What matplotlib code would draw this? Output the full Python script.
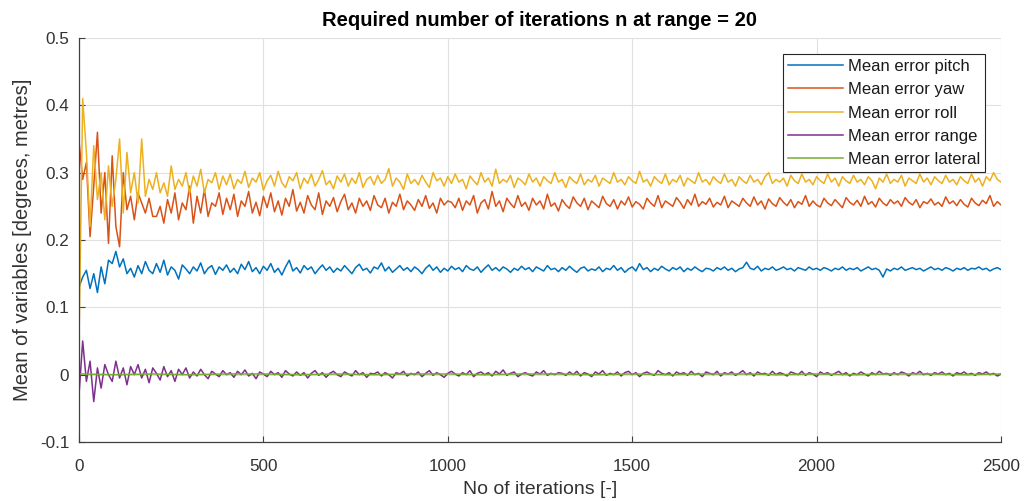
import numpy as np
import matplotlib
matplotlib.use("Agg")
import matplotlib.pyplot as plt

plt.rcParams['font.family'] = ['Liberation Sans', 'DejaVu Sans']

# ---------------- data ----------------
step = 10  # iteration spacing of the sampled series

pitch = [
    0.130,
    0.145, 0.155, 0.128, 0.150, 0.122, 0.160, 0.135, 0.170, 0.165, 0.183,
    0.160, 0.172, 0.150, 0.158, 0.145, 0.162, 0.150, 0.168, 0.155, 0.150,
    0.165, 0.152, 0.170, 0.148, 0.160, 0.155, 0.142, 0.163, 0.157, 0.150,
    0.160, 0.154, 0.166, 0.150, 0.158, 0.162, 0.149, 0.160, 0.155, 0.163,
    0.152, 0.158, 0.150, 0.164, 0.156, 0.168, 0.153, 0.159, 0.150, 0.161,
    0.155, 0.165, 0.152, 0.158, 0.148, 0.160, 0.170, 0.154, 0.159, 0.151,
    0.162, 0.156, 0.160, 0.150, 0.157, 0.163, 0.155, 0.160, 0.152, 0.158,
    0.154, 0.162, 0.156, 0.150, 0.159, 0.164, 0.155, 0.158, 0.151, 0.160,
    0.157, 0.166, 0.154, 0.160, 0.152, 0.157, 0.162, 0.155, 0.159, 0.153,
    0.160, 0.156, 0.150, 0.158, 0.163, 0.155, 0.160, 0.152, 0.158, 0.154,
    0.161, 0.156, 0.159, 0.153, 0.162, 0.157, 0.155, 0.160, 0.152, 0.158,
    0.163, 0.155, 0.159, 0.154, 0.160, 0.157, 0.152, 0.158, 0.155, 0.161,
    0.156, 0.159, 0.153, 0.160, 0.157, 0.154, 0.162, 0.156, 0.158, 0.153,
    0.159, 0.155, 0.161, 0.156, 0.152, 0.158, 0.160, 0.154, 0.157, 0.155,
    0.160, 0.153, 0.158, 0.156, 0.162, 0.155, 0.159, 0.152, 0.157, 0.160,
    0.154, 0.165, 0.156, 0.159, 0.153, 0.158, 0.155, 0.161, 0.157, 0.154,
    0.159, 0.156, 0.160, 0.153, 0.158, 0.155, 0.160, 0.156, 0.153, 0.158,
    0.157, 0.154, 0.159, 0.156, 0.160, 0.155, 0.158, 0.153, 0.157, 0.159,
    0.167, 0.158, 0.156, 0.161, 0.154, 0.158, 0.156, 0.160, 0.155, 0.157,
    0.160, 0.156, 0.158, 0.154, 0.159, 0.157, 0.155, 0.160, 0.156, 0.158,
    0.155, 0.159, 0.157, 0.154, 0.158, 0.156, 0.160, 0.155, 0.158, 0.156,
    0.159, 0.154, 0.157, 0.160, 0.156, 0.158, 0.155, 0.145, 0.157, 0.154,
    0.158, 0.156, 0.160, 0.155, 0.157, 0.159, 0.156, 0.158, 0.154, 0.157,
    0.160, 0.156, 0.158, 0.155, 0.159, 0.157, 0.154, 0.158, 0.156, 0.159,
    0.155, 0.158, 0.157, 0.160, 0.156, 0.158, 0.154, 0.157, 0.159, 0.156,
]

yaw = [
    0.347,
    0.290, 0.315, 0.205, 0.280, 0.360, 0.240, 0.300, 0.195, 0.325, 0.220,
    0.190, 0.300, 0.245, 0.265, 0.230, 0.270, 0.255, 0.240, 0.262, 0.235,
    0.235, 0.250, 0.225, 0.260, 0.240, 0.270, 0.230, 0.255, 0.245, 0.280,
    0.225, 0.265, 0.240, 0.275, 0.235, 0.255, 0.250, 0.270, 0.238, 0.262,
    0.245, 0.268, 0.235, 0.258, 0.250, 0.272, 0.240, 0.256, 0.236, 0.265,
    0.248, 0.270, 0.242, 0.258, 0.237, 0.262, 0.250, 0.275, 0.243, 0.256,
    0.240, 0.266, 0.252, 0.245, 0.270, 0.238, 0.258, 0.250, 0.263, 0.242,
    0.257, 0.268, 0.245, 0.255, 0.240, 0.262, 0.250, 0.258, 0.244, 0.266,
    0.252, 0.248, 0.262, 0.240, 0.256, 0.250, 0.268, 0.245, 0.258, 0.252,
    0.244, 0.260, 0.250, 0.266, 0.247, 0.255, 0.240, 0.262, 0.252, 0.258,
    0.256, 0.248, 0.262, 0.244, 0.258, 0.252, 0.266, 0.240, 0.255, 0.260,
    0.246, 0.272, 0.250, 0.258, 0.242, 0.262, 0.254, 0.248, 0.266, 0.250,
    0.256, 0.244, 0.262, 0.252, 0.258, 0.246, 0.268, 0.250, 0.255, 0.243,
    0.260, 0.252, 0.247, 0.264, 0.255, 0.250, 0.262, 0.245, 0.258, 0.253,
    0.248, 0.265, 0.254, 0.250, 0.260, 0.246, 0.258, 0.252, 0.264, 0.249,
    0.257, 0.253, 0.246, 0.262, 0.255, 0.250, 0.266, 0.248, 0.258, 0.254,
    0.250, 0.263, 0.256, 0.247, 0.260, 0.252, 0.268, 0.250, 0.257, 0.253,
    0.262, 0.249, 0.256, 0.252, 0.265, 0.248, 0.258, 0.254, 0.250, 0.262,
    0.255, 0.250, 0.264, 0.252, 0.258, 0.246, 0.261, 0.254, 0.250, 0.263,
    0.256, 0.251, 0.260, 0.248, 0.257, 0.253, 0.266, 0.250, 0.258, 0.252,
    0.249, 0.262, 0.255, 0.251, 0.260, 0.254, 0.248, 0.263, 0.256, 0.252,
    0.259, 0.250, 0.265, 0.253, 0.257, 0.249, 0.262, 0.255, 0.251, 0.260,
    0.254, 0.258, 0.250, 0.263, 0.256, 0.252, 0.260, 0.248, 0.257, 0.254,
    0.261, 0.252, 0.256, 0.250, 0.264, 0.254, 0.258, 0.251, 0.260, 0.253,
    0.249, 0.262, 0.255, 0.251, 0.259, 0.254, 0.266, 0.250, 0.257, 0.252,
]

roll = [
    0.050,
    0.410, 0.330, 0.220, 0.340, 0.260, 0.300, 0.230, 0.310, 0.250, 0.290,
    0.350, 0.240, 0.330, 0.270, 0.300, 0.255, 0.350, 0.265, 0.290, 0.275,
    0.300, 0.270, 0.285, 0.265, 0.310, 0.275, 0.290, 0.280, 0.300, 0.270,
    0.295, 0.280, 0.305, 0.270, 0.290, 0.285, 0.300, 0.275, 0.295, 0.282,
    0.298, 0.276, 0.290, 0.284, 0.302, 0.278, 0.292, 0.286, 0.300, 0.274,
    0.288, 0.296, 0.280, 0.302, 0.285, 0.278, 0.294, 0.288, 0.300, 0.276,
    0.292, 0.284, 0.298, 0.280, 0.290, 0.303, 0.282, 0.288, 0.276, 0.295,
    0.286, 0.298, 0.280, 0.292, 0.284, 0.300, 0.278, 0.290, 0.294, 0.282,
    0.296, 0.284, 0.290, 0.306, 0.280, 0.292, 0.286, 0.275, 0.298, 0.284,
    0.290, 0.282, 0.296, 0.286, 0.278, 0.300, 0.288, 0.292, 0.280, 0.294,
    0.284, 0.298, 0.286, 0.290, 0.276, 0.295, 0.288, 0.282, 0.300, 0.286,
    0.292, 0.280, 0.305, 0.284, 0.290, 0.286, 0.296, 0.278, 0.292, 0.288,
    0.282, 0.298, 0.286, 0.292, 0.280, 0.294, 0.288, 0.284, 0.300, 0.286,
    0.290, 0.278, 0.294, 0.288, 0.284, 0.298, 0.282, 0.290, 0.286, 0.296,
    0.280, 0.292, 0.288, 0.284, 0.300, 0.286, 0.290, 0.282, 0.294, 0.288,
    0.284, 0.302, 0.286, 0.290, 0.280, 0.294, 0.288, 0.284, 0.298, 0.282,
    0.290, 0.286, 0.296, 0.280, 0.292, 0.288, 0.284, 0.300, 0.286, 0.290,
    0.282, 0.294, 0.288, 0.284, 0.298, 0.286, 0.290, 0.280, 0.294, 0.288,
    0.284, 0.296, 0.286, 0.290, 0.282, 0.294, 0.300, 0.284, 0.290, 0.286,
    0.292, 0.280, 0.296, 0.288, 0.284, 0.298, 0.286, 0.290, 0.282, 0.294,
    0.288, 0.284, 0.298, 0.286, 0.292, 0.280, 0.294, 0.288, 0.284, 0.296,
    0.286, 0.290, 0.282, 0.294, 0.288, 0.276, 0.292, 0.286, 0.298, 0.284,
    0.290, 0.286, 0.296, 0.280, 0.292, 0.288, 0.284, 0.298, 0.286, 0.292,
    0.282, 0.294, 0.288, 0.284, 0.296, 0.286, 0.290, 0.282, 0.294, 0.288,
    0.284, 0.298, 0.286, 0.292, 0.280, 0.294, 0.288, 0.300, 0.290, 0.286,
]

rng_err = [
    -0.030,
    0.050, -0.010, 0.020, -0.040, 0.010, -0.020, 0.015, 0.000, -0.010, 0.020,
    -0.005, 0.010, -0.015, 0.012, 0.000, 0.015, -0.005, 0.008, -0.012, 0.010,
    0.002, -0.008, 0.012, -0.003, 0.006, -0.010, 0.008, 0.000, 0.010, -0.005,
    0.004, -0.002, 0.008, 0.000, -0.006, 0.005, 0.001, -0.003, 0.006, 0.000,
    0.003, -0.004, 0.005, 0.000, 0.007, -0.002, 0.002, -0.006, 0.004, 0.001,
    -0.003, 0.005, 0.000, 0.003, -0.004, 0.006, 0.001, -0.002, 0.004, -0.001,
    0.003, -0.005, 0.002, 0.006, -0.001, 0.003, -0.004, 0.002, 0.005, 0.000,
    -0.003, 0.004, 0.001, -0.002, 0.006, 0.000, 0.003, -0.004, 0.002, 0.001,
    0.004, -0.002, 0.003, 0.000, -0.005, 0.003, 0.001, 0.005, -0.002, 0.002,
    0.000, 0.004, -0.003, 0.002, 0.006, -0.001, 0.003, 0.000, -0.004, 0.002,
    0.005, 0.001, -0.002, 0.003, 0.000, 0.006, -0.003, 0.002, 0.004, 0.000,
    0.003, -0.002, 0.005, 0.001, 0.007, -0.001, 0.002, 0.004, -0.003, 0.001,
    0.003, 0.000, -0.002, 0.004, 0.001, 0.006, -0.001, 0.002, 0.000, 0.003,
    0.002, -0.001, 0.004, 0.000, 0.005, -0.002, 0.003, 0.001, -0.003, 0.004,
    0.001, 0.006, -0.001, 0.002, 0.000, 0.004, -0.002, 0.003, 0.005, 0.000,
    0.003, -0.003, 0.002, 0.004, 0.001, -0.001, 0.006, 0.002, 0.000, 0.003,
    -0.002, 0.004, 0.001, 0.003, -0.001, 0.005, 0.000, 0.002, -0.003, 0.004,
    0.002, 0.000, 0.005, -0.002, 0.003, 0.001, 0.004, -0.001, 0.002, 0.006,
    0.000, 0.003, -0.002, 0.004, 0.001, 0.002, -0.001, 0.005, 0.000, 0.003,
    0.001, -0.002, 0.004, 0.002, 0.000, 0.005, -0.001, 0.003, 0.001, -0.003,
    0.004, 0.001, 0.003, -0.001, 0.002, 0.005, 0.000, 0.003, -0.002, 0.002,
    0.000, 0.004, 0.001, -0.002, 0.003, 0.000, 0.005, 0.001, 0.002, -0.001,
    0.003, 0.000, 0.004, 0.002, -0.002, 0.003, 0.001, 0.005, 0.000, 0.002,
    -0.001, 0.003, 0.001, 0.004, 0.000, 0.002, -0.002, 0.003, 0.001, 0.004,
    0.000, 0.002, -0.001, 0.003, 0.001, 0.004, 0.000, 0.002, -0.002, 0.001,
]

lateral_step = 100
lateral = [
    0.001, 0.000, 0.001, 0.000, 0.001, 0.001, 0.000, 0.001, 0.000, 0.001,
    0.001, 0.000, 0.001, 0.001, 0.000, 0.001, 0.000, 0.001, 0.001, 0.000,
    0.001, 0.000, 0.001, 0.001, 0.000, 0.001,
]

labels = ['Mean error pitch', 'Mean error yaw', 'Mean error roll',
          'Mean error range', 'Mean error lateral']
xticks = [0, 500, 1000, 1500, 2000, 2500]
yticks = [-0.1, 0, 0.1, 0.2, 0.3, 0.4, 0.5]
yticklabels = ['-0.1', '0', '0.1', '0.2', '0.3', '0.4', '0.5']

colors = [(0, 0.447, 0.741), (0.85, 0.325, 0.098), (0.929, 0.694, 0.125),
          (0.494, 0.184, 0.556), (0.466, 0.674, 0.188)]

# ---------------- plot ----------------
fig = plt.figure(figsize=(10.25, 5.01), dpi=100)
ax = fig.add_axes([79 / 1025, 1 - 442 / 501, (1001 - 79) / 1025, (442 - 38) / 501])

series = [pitch, yaw, roll, rng_err]
for vals, lab, col in zip(series, labels[:4], colors[:4]):
    x = np.arange(len(vals)) * step
    ax.plot(x, vals, color=col, lw=1.1, label=lab)
xl = np.arange(len(lateral)) * lateral_step
ax.plot(xl, lateral, color=colors[4], lw=1.1, label=labels[4])

ax.set_xlim(0, 2500)
ax.set_ylim(-0.1, 0.5)
ax.set_xticks(xticks)
ax.set_yticks(yticks)
ax.set_yticklabels(yticklabels)
ax.grid(True, color=(0.88, 0.88, 0.88), lw=0.8)
ax.set_axisbelow(True)

for s in ['top', 'right']:
    ax.spines[s].set_visible(False)
for s in ['left', 'bottom']:
    ax.spines[s].set_color((0.25, 0.25, 0.25))
    ax.spines[s].set_linewidth(0.9)

ax.tick_params(direction='in', length=4.5, width=0.8, colors=(0.25, 0.25, 0.25),
               labelsize=12.3, labelcolor=(0.2, 0.2, 0.2))
ax.tick_params(axis='x', pad=12)
ax.tick_params(axis='y', pad=7)

ax.set_title('Required number of iterations n at range = 20', fontsize=14.5,
             fontweight='bold', color='black', pad=9)
ax.set_xlabel('No of iterations [-]', fontsize=14, color=(0.2, 0.2, 0.2), labelpad=5)
ax.set_ylabel('Mean of variables [degrees, metres]', fontsize=14.5,
              color=(0.2, 0.2, 0.2), labelpad=6)

leg = ax.legend(loc='upper right', bbox_to_anchor=((985 - 79) / 922, (442 - 54) / 404),
                fontsize=12, frameon=True, fancybox=False, framealpha=1,
                edgecolor=(0.15, 0.15, 0.15),
                handlelength=3.3, handletextpad=0.3, labelspacing=0.5,
                borderpad=0.3, borderaxespad=0)
leg.get_frame().set_linewidth(0.8)
for t in leg.get_texts():
    t.set_color((0.1, 0.1, 0.1))

fig.savefig('out.png', dpi=100)
